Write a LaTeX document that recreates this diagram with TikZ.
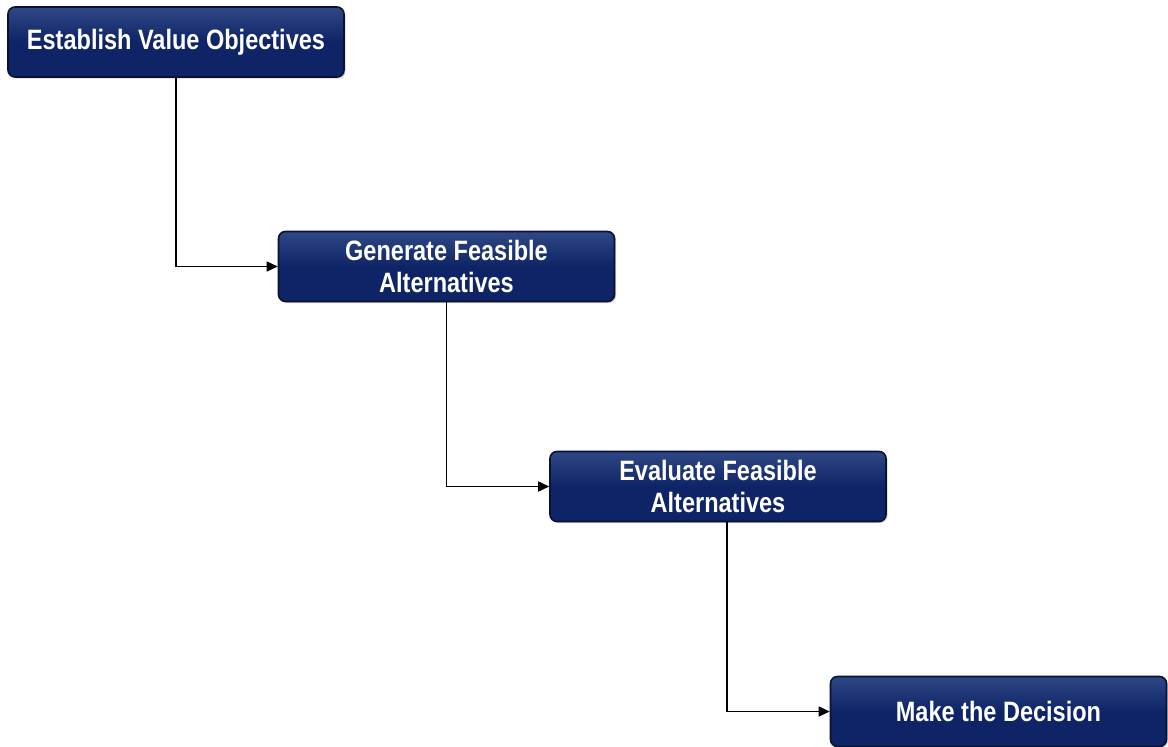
\documentclass[tikz,border=0pt]{standalone}
\usepackage{fontspec}
\setmainfont{Liberation Sans}[FakeStretch=0.84]
\usetikzlibrary{arrows.meta,shadows}
\definecolor{navy}{RGB}{14,36,102}
\definecolor{navytop}{RGB}{48,72,134}
\definecolor{navyedge}{RGB}{8,18,52}
\tikzset{
  stepbox/.style={rectangle, rounded corners=7pt, draw=navyedge, line width=1.6pt,
    top color=navytop, bottom color=navy, middle color=navy,
    minimum width=336pt, minimum height=70pt, align=center, text=white,
    font=\fontsize{28}{32}\selectfont\bfseries,
    drop shadow={shadow xshift=1.5pt, shadow yshift=-1.5pt, opacity=0.35}},
  conn/.style={draw=black, line width=1.7pt, -{Triangle[length=11pt,width=10pt]}}
}
\begin{document}
\begin{tikzpicture}[x=1pt,y=-1pt]
\useasboundingbox (0,0) rectangle (1168,747);
\node[stepbox] (a) at (176,42) {Establish Value Objectives};
\node[stepbox] (b) at (446.5,266.5) {Generate Feasible\\Alternatives};
\node[stepbox] (c) at (718,486.5) {Evaluate Feasible\\Alternatives};
\node[stepbox] (d) at (998.5,711.5) {Make the Decision};
\coordinate (cb) at (727,522);
\draw[conn] (a.south) |- (b.west);
\draw[conn] (b.south) |- (c.west);
\draw[conn] (cb) |- (d.west);
\end{tikzpicture}
\end{document}
